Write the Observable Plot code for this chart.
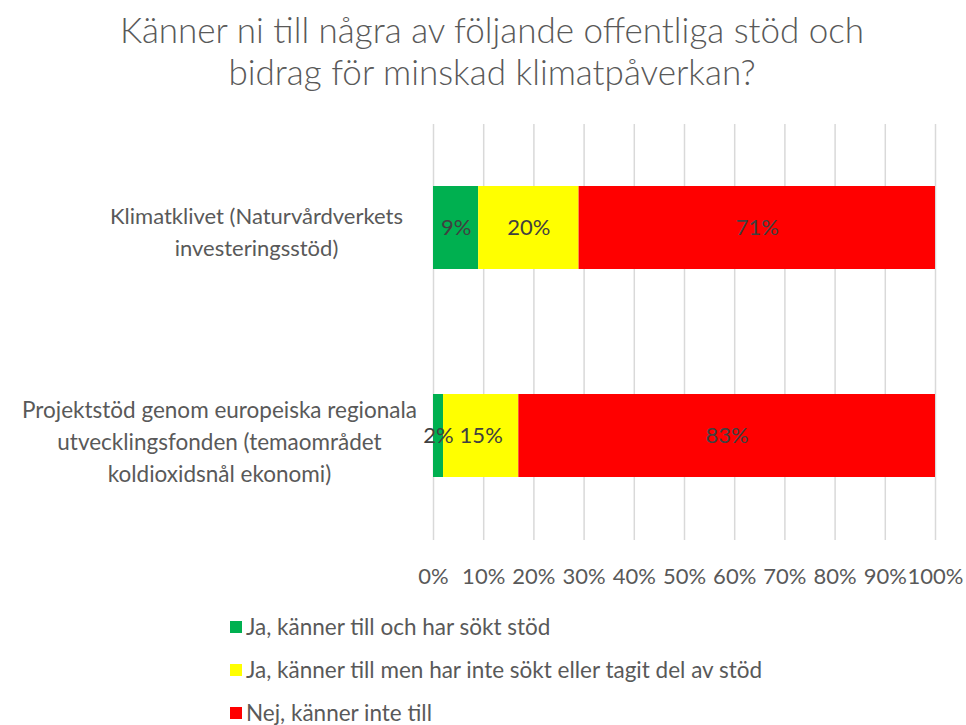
<!DOCTYPE html>
<html>
<head>
<meta charset="utf-8">
<script src="https://cdn.jsdelivr.net/npm/d3@7"></script>
<script src="https://cdn.jsdelivr.net/npm/@observablehq/plot@0.6"></script>
<style>
  html, body { margin: 0; padding: 0; background: #fff; }
  body { width: 966px; height: 725px; overflow: hidden; font-family: Lato, "Open Sans", sans-serif; color: #595959; }
  #title { height: 105px; box-sizing: border-box; padding-top: 8px; padding-left: 18px; text-align: center; font-size: 35px; line-height: 42px; color: #595959; font-weight: 300; }
  #legend { padding-left: 230px; padding-top: 5px; }
  .item { height: 43px; display: flex; align-items: center; font-size: 22.5px; color: #595959; }
  .sw { width: 12px; height: 12px; margin-right: 4px; display: inline-block; }
</style>
</head>
<body>
<div id="title">Känner ni till några av följande offentliga stöd och<br>bidrag för minskad klimatpåverkan?</div>
<div id="chart"></div>
<div id="legend"></div>
<script>
const categories = [
  "Klimatklivet (Naturvårdverkets\ninvesteringsstöd)",
  "Projektstöd genom europeiska regionala\nutvecklingsfonden (temaområdet\nkoldioxidsnål ekonomi)"
];
const series = [
  "Ja, känner till och har sökt stöd",
  "Ja, känner till men har inte sökt eller tagit del av stöd",
  "Nej, känner inte till"
];
const colors = ["#00B050", "#FFFF00", "#FF0000"];
// values per series, one per category (percent)
const seriesValues = [
  [9, 2],
  [20, 15],
  [71, 83]
];
const xTicks = [0, 10, 20, 30, 40, 50, 60, 70, 80, 90, 100];

const data = [];
series.forEach((s, si) => categories.forEach((c, ci) => data.push({cat: c, series: s, value: seriesValues[si][ci]})));

const fontFamily = "Lato, 'Open Sans', sans-serif";

const chart = Plot.plot({
  width: 966,
  height: 495,
  marginTop: 19,
  marginBottom: 60,
  marginLeft: 433,
  marginRight: 31,
  style: {fontFamily, fontSize: "22px", color: "#595959", background: "#fff"},
  x: {domain: [0, 100], ticks: xTicks, tickFormat: d => d + "%", label: null},
  y: {domain: categories, paddingInner: 0.6, paddingOuter: 0.3, label: null, axis: null},
  color: {domain: series, range: colors},
  marks: [
    Plot.gridX(xTicks, {stroke: "#d9d9d9", strokeOpacity: 1, strokeWidth: 1.5}),
    Plot.axisX({ticks: xTicks, tickSize: 0, tickPadding: 28, tickFormat: d => d + "%", fill: "#595959", fontSize: 22, label: null}),
    Plot.barX(data, Plot.stackX({x: "value", y: "cat", z: "series", fill: "series"})),
    Plot.text(data, Plot.stackX({x: "value", y: "cat", z: "series", text: d => d.value + "%", fill: "#404040", fontSize: 22})),
    Plot.text(categories.slice(0, 1), {y: d => d, text: d => d, frameAnchor: "left", dx: -177, dy: 2, textAnchor: "middle", lineAnchor: "middle", lineHeight: 1.45, fill: "#595959", fontSize: 22}),
    Plot.text(categories.slice(1, 2), {y: d => d, text: d => d, frameAnchor: "left", dx: -214, dy: 4, textAnchor: "middle", lineAnchor: "middle", lineHeight: 1.42, fill: "#595959", fontSize: 22.5})
  ]
});
document.getElementById("chart").appendChild(chart);

const legend = document.getElementById("legend");
series.forEach((s, i) => {
  const item = document.createElement("div");
  item.className = "item";
  const sw = document.createElement("span");
  sw.className = "sw";
  sw.style.background = colors[i];
  item.appendChild(sw);
  item.appendChild(document.createTextNode(s));
  legend.appendChild(item);
});
</script>
</body>
</html>
